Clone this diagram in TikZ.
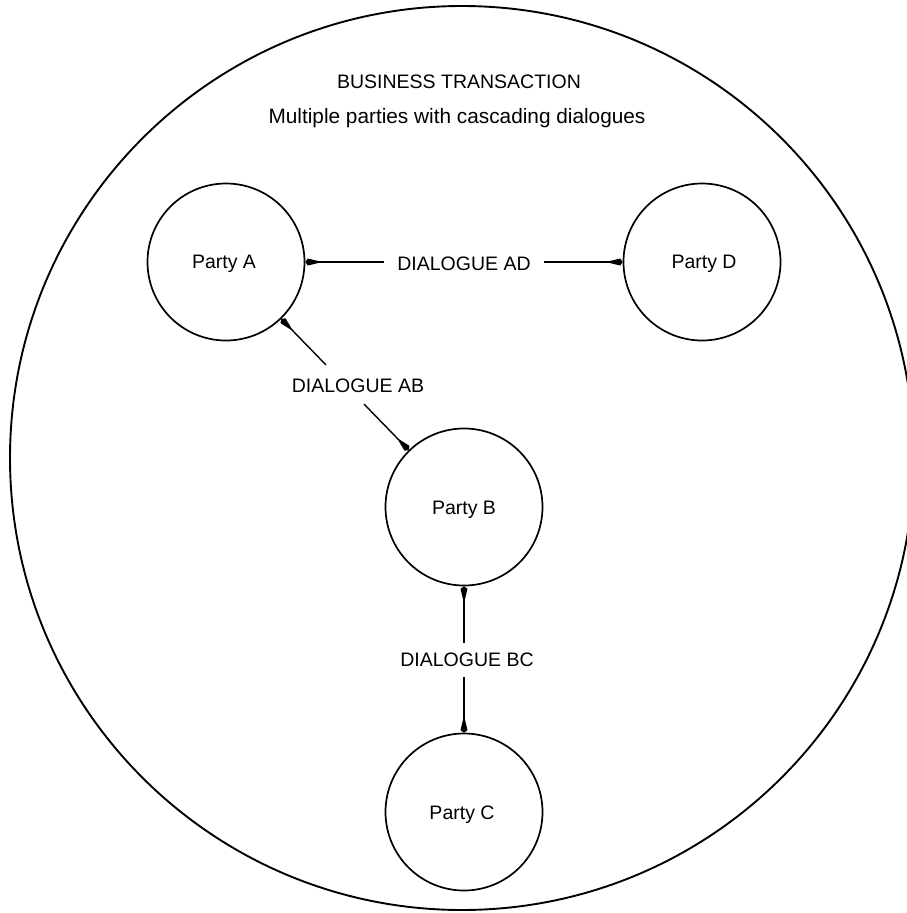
\documentclass[tikz,border=0pt]{standalone}
\usepackage{fontspec}
\setmainfont{Liberation Sans}
\usetikzlibrary{arrows.meta,calc}
\begin{document}
\begin{tikzpicture}[x=1pt,y=-1pt,
  party/.style={circle,draw,line width=1.7pt,minimum size=157pt,inner sep=0pt,font=\fontsize{19.5}{23}\selectfont},
  lbl/.style={font=\fontsize{19.5}{23}\selectfont,inner sep=0pt},
  arr/.style={line width=1.4pt,-{Kite[length=17pt,width=7pt,inset=14.5pt]}}]
\useasboundingbox (0,0) rectangle (907,913);
\clip (0,0) rectangle (907,913);
\node[circle,draw,line width=1.9pt,minimum size=904pt,inner sep=0pt] (bt) at (462,458) {};
\node[lbl,anchor=base] (t1) at (459,88) {BUSINESS TRANSACTION};
\node[lbl,anchor=base,font=\fontsize{20.8}{24}\selectfont] (t2) at (457,123) {Multiple parties with cascading dialogues};
\node[party] (A) at (226,262) {};
\node[party] (D) at (702,262) {};
\node[party] (B) at (464,507) {};
\node[party] (C) at (464,812) {};
\node[lbl,anchor=base] (la) at (224,268) {Party A};
\node[lbl,anchor=base] (ld) at (704,268) {Party D};
\node[lbl,anchor=base] (lb) at (464,514) {Party B};
\node[lbl,anchor=base] (lc) at (462,819) {Party C};
% dialogue AD
\node[lbl,anchor=base] (dad) at (464,270) {DIALOGUE AD};
\coordinate (ad1) at (384,262);
\coordinate (ad2) at (544,262);
\draw[arr] (ad1) -- (A);
\draw[arr] (ad2) -- (D);
% dialogue AB
\node[lbl,anchor=base] (dab) at (358,392) {DIALOGUE AB};
\coordinate (ab1) at ($(A)!0.42!(B)$);
\coordinate (ab2) at ($(A)!0.58!(B)$);
\draw[arr] (ab1) -- (A);
\draw[arr] (ab2) -- (B);
% dialogue BC
\node[lbl,anchor=base] (dbc) at (467,666) {DIALOGUE BC};
\coordinate (bc1) at (464,643);
\coordinate (bc2) at (464,677);
\draw[arr] (bc1) -- (B);
\draw[arr] (bc2) -- (C);
\end{tikzpicture}
\end{document}
